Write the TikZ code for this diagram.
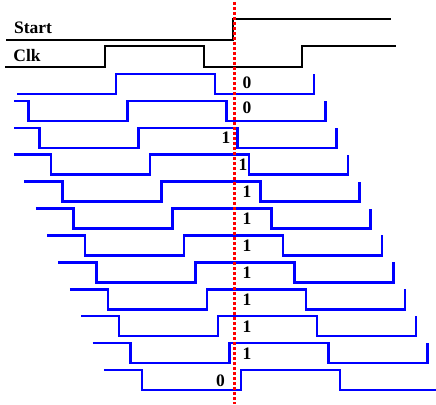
\documentclass[tikz,border=0pt]{standalone}
\usepackage{fontspec}
\setmainfont{Liberation Serif}
\begin{document}
\begin{tikzpicture}[x=1pt,y=-1pt,line join=miter,
  wave/.style={line width=2.6pt,blue},
  sig/.style={line width=2.3pt,black},
  marker/.style={line width=3pt,red,dash pattern=on 3pt off 2pt},
  lbl/.style={font=\fontsize{17.5}{19}\selectfont\bfseries,inner sep=0pt}]
\useasboundingbox (0,0) rectangle (436,404);

% control signals
\draw[sig] (6,40) -- (233,40) -- (233,19) -- (391,19);
\draw[sig] (5,67) -- (105,67) -- (105,46) -- (204,46) -- (204,67) -- (302,67) -- (302,46) -- (396,46);
\node[lbl] (start) at (33,27.5) {Start};
\node[lbl] (clk) at (27,56) {Clk};

% first phase: starts low
\draw[wave] (17,94) -- (116,94) -- (116,74) -- (215,74) -- (215,94) -- (314,94) -- (314,74);

% delayed phases
\foreach \k in {2,...,12} {
  \pgfmathsetmacro\u{116+11.35*(\k-1)}
  \pgfmathsetmacro\hi{74+26.9*(\k-1)}
  \pgfmathsetmacro\lo{\hi+20}
  \pgfmathsetmacro\d{\u-99}
  \pgfmathsetmacro\s{max(14,\d-38)}
  \ifnum\k<12
    \draw[wave] (\s,\hi) -- (\d,\hi) -- (\d,\lo) -- (\u,\lo) -- (\u,\hi)
      -- (\u+99,\hi) -- (\u+99,\lo) -- (\u+198,\lo) -- (\u+198,\hi);
  \else
    \draw[wave] (\s,\hi) -- (\d,\hi) -- (\d,\lo) -- (\u,\lo) -- (\u,\hi)
      -- (\u+99,\hi) -- (\u+99,\lo) -- (438,\lo);
  \fi
}

% sampled values
\node[lbl] (b1) at (247,83) {0};
\node[lbl] (b2) at (247,107.5) {0};
\node[lbl] (b3) at (226,137.5) {1};
\node[lbl] (b4) at (243,164.5) {1};
\node[lbl] (b5) at (247,191.5) {1};
\node[lbl] (b6) at (247,218.5) {1};
\node[lbl] (b7) at (247,245.5) {1};
\node[lbl] (b8) at (247,272.5) {1};
\node[lbl] (b9) at (247,299.5) {1};
\node[lbl] (b10) at (247,326.5) {1};
\node[lbl] (b11) at (247,353.5) {1};
\node[lbl] (b12) at (220.5,380.5) {0};

% sampling instant
\coordinate (top) at (234,2);
\coordinate (bot) at (234,404);
\draw[marker] (top) -- (bot);
\end{tikzpicture}
\end{document}
